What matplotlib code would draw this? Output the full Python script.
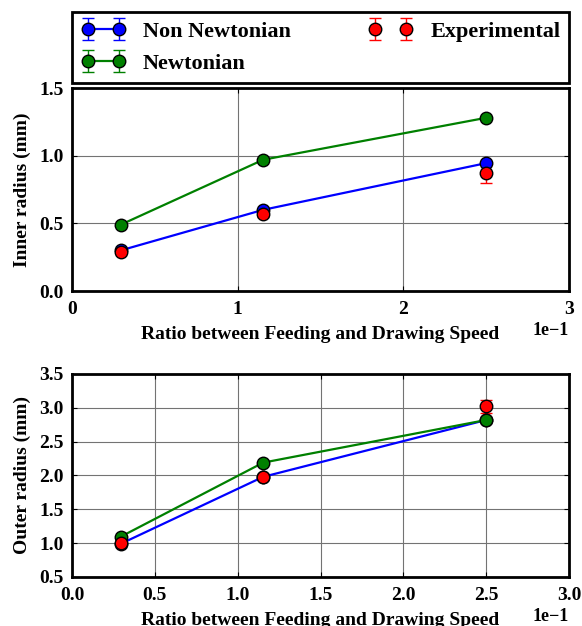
import numpy as np
import matplotlib
matplotlib.use("Agg")
import matplotlib.pyplot as plt

# feeding / drawing speed ratio
ratio = [0.0294, 0.1154, 0.25]

inner_non_newt = [0.30, 0.60, 0.945]
inner_newt = [0.49, 0.97, 1.28]
inner_exp = [0.29, 0.57, 0.875]
inner_exp_err = [0.02, 0.02, 0.08]

outer_non_newt = [0.99, 1.98, 2.82]
outer_newt = [1.095, 2.19, 2.82]
outer_exp = [1.00, 1.98, 3.02]
outer_exp_err = [0.03, 0.03, 0.10]

plt.rcParams['font.family'] = ['Liberation Serif', 'DejaVu Serif']
plt.rcParams['font.weight'] = 'bold'
plt.rcParams['axes.labelweight'] = 'bold'
plt.rcParams['xtick.direction'] = 'in'
plt.rcParams['ytick.direction'] = 'in'
plt.rcParams['xtick.top'] = True
plt.rcParams['ytick.right'] = True
plt.rcParams['xtick.labelsize'] = 14
plt.rcParams['ytick.labelsize'] = 14
plt.rcParams['xtick.major.pad'] = 7
plt.rcParams['ytick.major.pad'] = 6

fig = plt.figure(figsize=(5.82, 6.26), dpi=100)
ax1 = fig.add_axes([0.1237, 0.5351, 0.854, 0.3243])
ax2 = fig.add_axes([0.1237, 0.0783, 0.854, 0.3243])


def draw(ax, nn, nw, ex, ex_err):
    kw = dict(marker='o', markersize=9, markeredgecolor='black', markeredgewidth=1,
              capsize=4, lw=1.6, elinewidth=1)
    ax.errorbar(ratio, nn, yerr=0, color='blue', label='Non Newtonian', **kw)
    ax.errorbar(ratio, nw, yerr=0, color='green', label='Newtonian', **kw)
    ax.errorbar(ratio, ex, yerr=ex_err, color='red', ls='none', label='Experimental', **kw)
    ax.grid(True, color='0.45', ls='-', lw=0.8)
    ax.set_axisbelow(True)
    for s in ax.spines.values():
        s.set_linewidth(2)
    ax.ticklabel_format(axis='x', style='sci', scilimits=(0, 0))
    ax.set_xlabel('Ratio between Feeding and Drawing Speed', fontsize=14, labelpad=6)
    ax.xaxis.get_offset_text().set_fontsize(13)


draw(ax1, inner_non_newt, inner_newt, inner_exp, inner_exp_err)
ax1.set_xlim(0, 0.3)
ax1.set_xticks([0, 0.1, 0.2, 0.3])
ax1.set_ylim(0, 1.5)
ax1.set_yticks([0.0, 0.5, 1.0, 1.5])
ax1.set_ylabel('Inner radius (mm)', fontsize=14, labelpad=6)

draw(ax2, outer_non_newt, outer_newt, outer_exp, outer_exp_err)
ax2.set_xlim(0, 0.3)
ax2.set_ylim(0.5, 3.5)
ax2.set_yticks([0.5, 1.0, 1.5, 2.0, 2.5, 3.0, 3.5])
ax2.set_ylabel('Outer radius (mm)', fontsize=14, labelpad=6)

leg = ax1.legend(loc='lower left', bbox_to_anchor=(0, 1.025, 1, 0.35), mode='expand',
                 ncol=2, borderaxespad=0, numpoints=2, fontsize=16, fancybox=False,
                 framealpha=1, edgecolor='black', handlelength=2.0, labelspacing=0.52,
                 handletextpad=0.8)
leg.get_frame().set_linewidth(2)

fig.savefig('out.png', dpi=100)
